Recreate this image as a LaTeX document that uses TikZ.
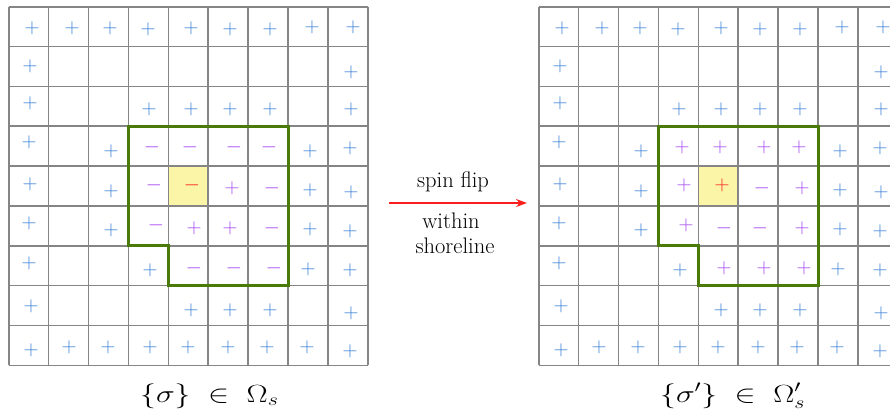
\documentclass[tikz,border=0pt]{standalone}
\usepackage{graphicx}
\usetikzlibrary{arrows.meta}
\definecolor{gridgray}{HTML}{858585}
\definecolor{shore}{RGB}{74,122,8}
\definecolor{spinblue}{RGB}{58,128,216}
\definecolor{spinpurple}{RGB}{165,70,240}
\definecolor{spinred}{RGB}{250,30,30}
\definecolor{flipyellow}{HTML}{FBF5A8}
\definecolor{flipedge}{HTML}{D8CC78}
\begin{document}
\begin{tikzpicture}[x=1pt,y=-1pt,
  gridline/.style={draw=gridgray,line width=1.6pt},
  shoreline/.style={draw=shore,line width=3pt,line join=miter},
  sym/.style={inner sep=0pt,font=\fontsize{22.5}{27}\selectfont},
  lab/.style={inner sep=0pt,font=\fontsize{22.5}{27}\selectfont},
  biglab/.style={inner sep=0pt,font=\fontsize{26}{31}\selectfont},
  fliparrow/.style={draw=spinred,line width=1.5pt,-{Stealth[length=11pt,width=8pt]}}]
\clip (0,0) rectangle (890,415);
\fill[white] (0,0) rectangle (890,415);
% two lattices
\foreach \gx/\nm in {8.7/L,538.7/R}{
  \begin{scope}[shift={(\gx,6.7)},x=39.9pt,y=-39.85pt]
    \fill[flipyellow,draw=flipedge,line width=0.8pt] (4,4) rectangle (5,5);
    \foreach \k in {0,...,9}{
      \draw[gridline] (\k,0) -- (\k,9);
      \draw[gridline] (0,\k) -- (9,\k);
    }
    \draw[shoreline] (3,3) -- (7,3) -- (7,7) -- (4,7) -- (4,6) -- (3,6) -- cycle;
  \end{scope}
}
% spins: x / y / colour / left sign / right sign
\foreach \px/\py/\cl/\sL/\sR [count=\i] in {
  32/28/spinblue/+/+, 72/28/spinblue/+/+, 110/28/spinblue/+/+, 148/29/spinblue/+/+,
  191/28/spinblue/+/+, 230/29/spinblue/+/+, 270/29/spinblue/+/+, 312/27/spinblue/+/+, 353/27/spinblue/+/+,
  30/66/spinblue/+/+, 351/72/spinblue/+/+,
  30/103/spinblue/+/+, 149/109/spinblue/+/+, 191/109/spinblue/+/+, 230/109/spinblue/+/+, 270/109/spinblue/+/+, 351/109/spinblue/+/+,
  29/142/spinblue/+/+, 111/151/spinblue/+/+, 152/147/spinpurple/-/+, 190/147/spinpurple/-/+,
  234/147/spinpurple/-/+, 269/147/spinpurple/-/+, 310/151/spinblue/+/+, 350/148/spinblue/+/+,
  30/184/spinblue/+/+, 111/191/spinblue/+/+, 154/185/spinpurple/-/+, 192/185/spinred/-/+,
  232/188/spinpurple/+/-, 272/188/spinpurple/-/+, 310/190/spinblue/+/+, 351/192/spinblue/+/+,
  29/223/spinblue/+/+, 111/230/spinblue/+/+, 156/225/spinpurple/-/+, 194/228/spinpurple/+/-,
  230/228/spinpurple/+/-, 272/228/spinpurple/-/+, 310/229/spinblue/+/+, 350/231/spinblue/+/+,
  29/263/spinblue/+/+, 150/270/spinblue/+/+, 194/268/spinpurple/-/+, 234/268/spinpurple/-/+,
  274/268/spinpurple/-/+, 308/269/spinblue/+/+, 350/270/spinblue/+/+,
  31/306/spinblue/+/+, 191/310/spinblue/+/+, 230/310/spinblue/+/+, 270/310/spinblue/+/+, 351/313/spinblue/+/+,
  31/350/spinblue/+/+, 69/347/spinblue/+/+, 108/347/spinblue/+/+, 150/347/spinblue/+/+,
  188/347/spinblue/+/+, 228/347/spinblue/+/+, 267/347/spinblue/+/+, 307/347/spinblue/+/+, 350/351/spinblue/+/+}{
  \node[sym,text=\cl] (L\i) at (\px,\py) {$\sL$};
  \node[sym,text=\cl] (R\i) at (\px+530,\py) {$\sR$};
}
% captions
\node[biglab,anchor=base west] (capL) at (140,402) {\scalebox{1.27}[1]{$\{\sigma\}\;\in\;\Omega_s$}};
\node[biglab,anchor=base west] (capR) at (660,402) {\scalebox{1.27}[1]{$\{\sigma'\}\;\in\;\Omega'_s$}};
% arrow and its labels
\coordinate (arrA) at (389,203);
\coordinate (arrB) at (527,203);
\draw[fliparrow] (arrA) -- (arrB);
\node[lab,anchor=base] (t1) at (453,187) {spin flip};
\node[lab,anchor=base] (t2) at (451,228) {within};
\node[lab,anchor=base] (t3) at (455,253) {shoreline};
\end{tikzpicture}
\end{document}
